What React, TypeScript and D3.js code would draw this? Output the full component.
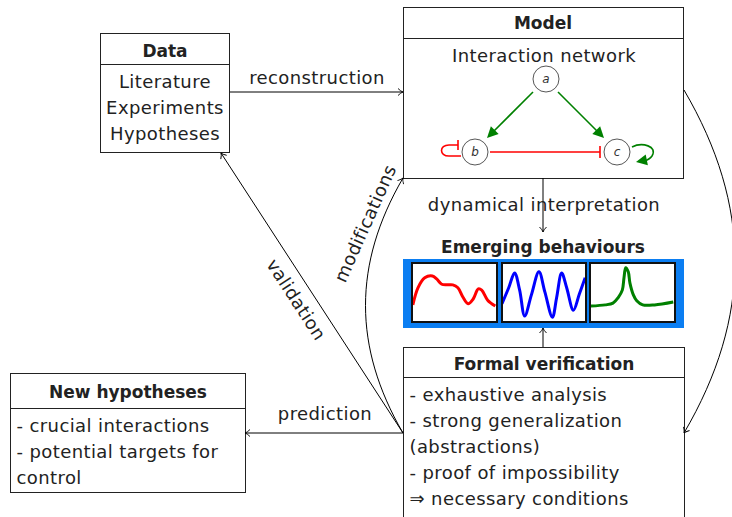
import React from "react";
import * as d3 from "d3";

const W = 732, H = 517;
const FONT = "'DejaVu Sans', sans-serif";
const FS = 18; // regular text size
const LS = 0.4; // regular text letter spacing

// box texts
const dataLines = ["Literature", "Experiments", "Hypotheses"];
const hypoLines = ["- crucial interactions", "- potential targets for", "control"];
const formalLines = ["- exhaustive analysis", "- strong generalization", "(abstractions)", "- proof of impossibility", "\u21D2 necessary conditions"];

// emerging behaviours, [t, value]
const redSeries: [number, number][] = [[0.01, 0.29], [0.07, 0.58], [0.15, 0.75], [0.24, 0.78], [0.29, 0.73], [0.35, 0.64], [0.41, 0.63], [0.48, 0.63], [0.54, 0.58], [0.60, 0.42], [0.66, 0.31], [0.72, 0.39], [0.78, 0.56], [0.82, 0.54], [0.89, 0.37], [0.98, 0.27]];
const blueSeries: [number, number][] = [[0, 0.31], [0.08, 0.58], [0.15, 0.83], [0.21, 0.54], [0.27, 0.1], [0.35, 0.46], [0.44, 0.85], [0.51, 0.51], [0.6, 0.08], [0.65, 0.41], [0.71, 0.83], [0.77, 0.58], [0.85, 0.2], [0.92, 0.47], [0.99, 0.75]];
const greenSeries: [number, number][] = [[0.01, 0.27], [0.18, 0.29], [0.27, 0.32], [0.33, 0.41], [0.38, 0.54], [0.4, 0.75], [0.42, 0.92], [0.45, 0.85], [0.47, 0.66], [0.51, 0.46], [0.55, 0.36], [0.62, 0.29], [0.76, 0.29], [0.98, 0.34]];

const panels = [
  { x0: 412, x1: 497, series: redSeries, color: "#ff0000" },
  { x0: 502, x1: 586, series: blueSeries, color: "#0000ff" },
  { x0: 590, x1: 675, series: greenSeries, color: "#008000" },
];

const head = (x: number, y: number, fromX: number, fromY: number, key: string) => {
  const a = (Math.atan2(y - fromY, x - fromX) * 180) / Math.PI;
  return <path key={key} d="M-5,-3.5 Q-2,-0.5 0,0 Q-2,0.5 -5,3.5" fill="none" stroke="#000" strokeWidth={0.9}
    transform={`translate(${x},${y}) rotate(${a})`} />;
};

const tri = (x: number, y: number, fromX: number, fromY: number, color: string) => {
  const a = (Math.atan2(y - fromY, x - fromX) * 180) / Math.PI;
  return <path d="M0,0 L-11,-5.5 L-11,5.5 Z" fill={color} transform={`translate(${x},${y}) rotate(${a})`} />;
};

const T = ({ x, y, children, anchor = "middle", transform }: any) => (
  <text x={x} y={y} textAnchor={anchor} fontSize={FS} letterSpacing={LS} transform={transform}>{children}</text>
);

function Box({ x, y, w, h, hh, title, lines, ty, ly, align }: any) {
  return (
    <g>
      <rect x={x} y={y} width={w} height={h} fill="#fff" stroke="#222" strokeWidth={1} />
      <line x1={x} x2={x + w} y1={y + hh} y2={y + hh} stroke="#222" />
      <text x={x + w / 2} y={ty} textAnchor="middle" fontWeight="bold" fontSize={17}>{title}</text>
      {lines.map((l: string, i: number) => (
        <T key={i} x={align === "middle" ? x + w / 2 : x + 6} y={ly + i * 26} anchor={align === "middle" ? "middle" : "start"}>{l}</T>
      ))}
    </g>
  );
}

export default function App() {
  const yS = d3.scaleLinear().domain([0, 1]).range([322, 263]);
  const origin = [403, 433];
  // modifications: bent curve
  const modPath = d3.path();
  modPath.moveTo(403, 433);
  modPath.bezierCurveTo(353, 347, 353, 264, 403, 178);
  const rightPath = d3.path();
  rightPath.moveTo(684, 90);
  rightPath.bezierCurveTo(752, 206, 752, 317, 684, 433);

  return (
    <svg width={W} height={H} style={{ position: "absolute", left: 0, top: 0, fontFamily: FONT }}>
      <rect width={W} height={H} fill="#fff" />
      <g fill="#222">
        {/* Data */}
        <Box x={100.5} y={33.5} w={129} h={119} hh={31} title="Data" lines={dataLines} ty={57} ly={88} align="middle" />
        {/* New hypotheses */}
        <Box x={10.5} y={373.5} w={235} h={119} hh={35} title="New hypotheses" lines={hypoLines} ty={398} ly={432} align="start" />
        {/* Formal verification */}
        <Box x={403.5} y={347.5} w={281} h={190} hh={30} title="Formal verification" lines={formalLines} ty={370} ly={401} align="start" />

        {/* Model */}
        <rect x={403.5} y={7.5} width={280} height={171} fill="#fff" stroke="#222" />
        <line x1={403.5} x2={683.5} y1={38.5} y2={38.5} stroke="#222" />
        <text x={543} y={29} textAnchor="middle" fontWeight="bold" fontSize={17}>Model</text>
        <T x={544} y={62}>Interaction network</T>

        {/* network */}
        <line x1={533} y1={92} x2={493} y2={132} stroke="#008000" strokeWidth={1.6} />
        {tri(487, 138, 533, 92, "#008000")}
        <line x1={558} y1={92} x2={598} y2={132} stroke="#008000" strokeWidth={1.6} />
        {tri(604, 138, 558, 92, "#008000")}
        <line x1={490} y1={152} x2={600} y2={152} stroke="#ff0000" strokeWidth={1.6} />
        <line x1={600} y1={146} x2={600} y2={158} stroke="#ff0000" strokeWidth={1.6} />
        <path d="M461,156 L449,156 C439,156 439,145 449,145 L458,145" fill="none" stroke="#ff0000" strokeWidth={1.6} />
        <line x1={458} y1={140} x2={458} y2={150} stroke="#ff0000" strokeWidth={1.6} />
        <path d="M632,147 C642,142 658,146 652,156 C650,159 648,160 644,161" fill="none" stroke="#008000" strokeWidth={1.6} />
        {tri(636, 162, 646, 160, "#008000")}
        {[["a", 546, 79], ["b", 475, 152], ["c", 617, 152]].map(([l, x, y]: any) => (
          <g key={l}>
            <circle cx={x} cy={y} r={13} fill="#fff" stroke="#444" strokeWidth={0.9} />
            <text x={x} y={y + 4} textAnchor="middle" fontStyle="italic" fontSize={12} fill="#333">{l}</text>
          </g>
        ))}

        {/* arrows */}
        <line x1={230} y1={92} x2={403} y2={92} stroke="#000" />
        {head(403, 92, 230, 92, "h1")}
        <T x={317} y={84}>reconstruction</T>

        <line x1={543} y1={178} x2={543} y2={232} stroke="#000" />
        {head(543, 232, 543, 178, "h2")}
        <T x={544} y={211}>dynamical interpretation</T>
        <text x={543} y={253} textAnchor="middle" fontWeight="bold" fontSize={17}>Emerging behaviours</text>

        <line x1={543} y1={347} x2={543} y2={328} stroke="#000" />
        {head(543, 328, 543, 347, "h3")}

        <line x1={origin[0]} y1={origin[1]} x2={245} y2={433} stroke="#000" />
        {head(245, 433, 403, 433, "h4")}
        <T x={325} y={420}>prediction</T>

        <line x1={origin[0]} y1={origin[1]} x2={221} y2={153} stroke="#000" />
        {head(221, 153, 403, 433, "h5")}
        <T x={0} y={0} transform="translate(291,303) rotate(57)">validation</T>

        <path d={modPath.toString()} fill="none" stroke="#000" />
        {head(403, 178, 353, 264, "h6")}
        <T x={0} y={0} transform="translate(371,226) rotate(-66)">modifications</T>

        <path d={rightPath.toString()} fill="none" stroke="#000" />
        {head(684, 433, 752, 317, "h7")}

        {/* emerging behaviours */}
        <rect x={403} y={259} width={281} height={69} fill="#0b7ef2" />
        {panels.map((p, i) => {
          const xS = d3.scaleLinear().domain([0, 1]).range([p.x0, p.x1]);
          const line = d3.line<[number, number]>().x((d) => xS(d[0])).y((d) => yS(d[1])).curve(d3.curveCatmullRom);
          return (
            <g key={i}>
              <clipPath id={`cp${i}`}><rect x={p.x0} y={263} width={p.x1 - p.x0} height={59} /></clipPath>
              <rect x={p.x0} y={263} width={p.x1 - p.x0} height={59} fill="#fff" />
              <path d={line(p.series) || ""} fill="none" stroke={p.color} strokeWidth={3} clipPath={`url(#cp${i})`} />
              <rect x={p.x0} y={263} width={p.x1 - p.x0} height={59} fill="none" stroke="#111" strokeWidth={2} />
            </g>
          );
        })}
      </g>
    </svg>
  );
}
